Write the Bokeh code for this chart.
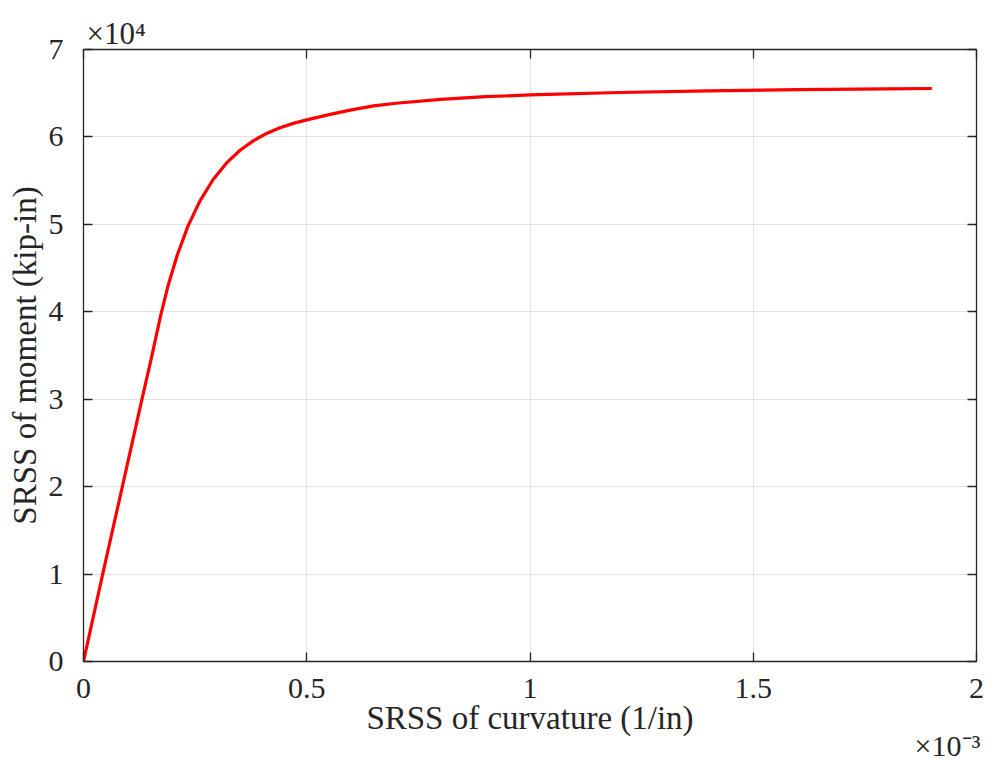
from bokeh.plotting import figure
from bokeh.models import (Range1d, LinearAxis, FixedTicker, Title, ColumnDataSource,
                          CustomJSTickFormatter)
from bokeh.embed import file_html
from bokeh.resources import INLINE

# SRSS of curvature (x 1e-3 1/in) and SRSS of moment (x 1e4 kip-in)
curvature_e3 = [0.0, 0.043, 0.087, 0.131, 0.152, 0.1725, 0.19, 0.21, 0.234,
                0.26, 0.29, 0.32, 0.35, 0.38, 0.41, 0.44, 0.47, 0.5,
                0.55, 0.6, 0.65, 0.7, 0.8, 0.9, 1.0, 1.2, 1.4, 1.6, 1.8, 1.9]
moment_e4 = [0.0, 1.0, 2.0, 3.0, 3.47, 3.95, 4.31, 4.65, 4.98,
             5.26, 5.51, 5.70, 5.845, 5.955, 6.04, 6.105, 6.155, 6.195,
             6.255, 6.31, 6.355, 6.385, 6.43, 6.46, 6.48, 6.508, 6.527, 6.541, 6.55, 6.554]

x_ticks = [0, 0.5, 1, 1.5, 2]
y_ticks = [0, 1, 2, 3, 4, 5, 6, 7]

FONT = "Liberation Serif"
AXC = "#262626"

src = ColumnDataSource(dict(x=curvature_e3, y=moment_e4))

p = figure(width=989, height=763, output_backend="svg", toolbar_location=None,
           title=None,
           x_range=Range1d(0, 2), y_range=Range1d(0, 7),
           x_axis_label="SRSS of curvature (1/in)",
           y_axis_label="SRSS of moment (kip-in)")
p.min_border_left = 83
p.min_border_right = 13
p.min_border_top = 49
p.min_border_bottom = 102
p.outline_line_color = None
p.background_fill_color = "white"
p.border_fill_color = "white"

def style_axis(ax, labels=True):
    ax.axis_line_color = AXC
    ax.axis_line_width = 1.3
    ax.major_tick_line_color = AXC
    ax.major_tick_line_width = 1.3
    ax.major_tick_in = 9
    ax.major_tick_out = 0
    ax.minor_tick_line_color = None
    ax.major_label_text_font = FONT
    ax.major_label_text_color = AXC
    ax.axis_label_text_font = FONT
    ax.axis_label_text_font_style = "normal"
    ax.axis_label_text_color = AXC
    if not labels:
        ax.formatter = CustomJSTickFormatter(code="return '';")
        ax.major_label_text_font_size = "1px"
        ax.major_label_standoff = 0

xa = p.xaxis[0]
ya = p.yaxis[0]
xa.ticker = FixedTicker(ticks=x_ticks)
ya.ticker = FixedTicker(ticks=y_ticks)
style_axis(xa)
style_axis(ya)
xa.major_label_text_font_size = "30px"
ya.major_label_text_font_size = "30px"
xa.axis_label_text_font_size = "33px"
ya.axis_label_text_font_size = "33px"
xa.major_label_standoff = 17
ya.major_label_standoff = 20
xa.axis_label_standoff = -1
ya.axis_label_standoff = 3

top = LinearAxis(ticker=FixedTicker(ticks=x_ticks))
right = LinearAxis(ticker=FixedTicker(ticks=y_ticks))
style_axis(top, labels=False)
style_axis(right, labels=False)
p.add_layout(top, "above")
p.add_layout(right, "right")

p.xgrid.ticker = FixedTicker(ticks=x_ticks)
p.ygrid.ticker = FixedTicker(ticks=y_ticks)
for g in (p.xgrid[0], p.ygrid[0]):
    g.grid_line_color = "#e3e3e3"
    g.grid_line_width = 1

p.line("x", "y", source=src, line_color="#ff0000", line_width=3.2)

# axis exponent multipliers
p.add_layout(Title(text="×10⁴", align="left", offset=3, standoff=-3,
                   text_font=FONT, text_font_size="31px", text_font_style="normal",
                   text_color=AXC), "above")
p.add_layout(Title(text="×10⁻³", align="right", offset=-4, standoff=-24,
                   text_font=FONT, text_font_size="30px", text_font_style="normal",
                   text_color=AXC), "below")

open("out.html", "w").write(file_html(p, INLINE))
